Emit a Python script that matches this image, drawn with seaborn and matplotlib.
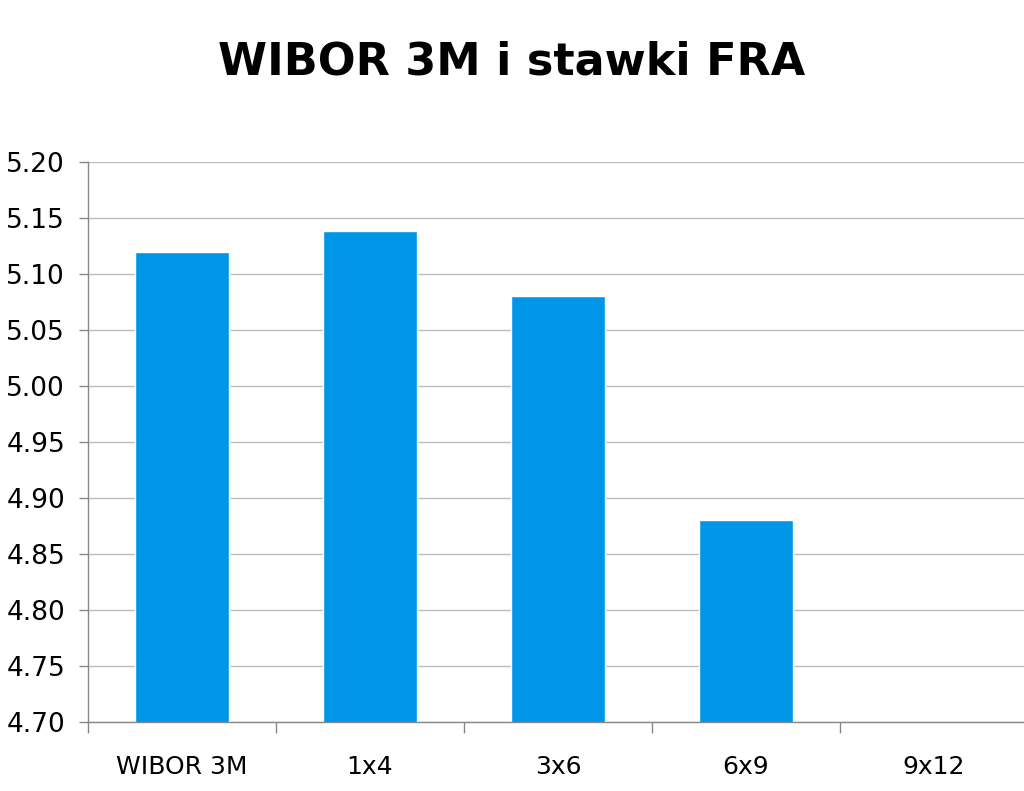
import numpy as np
import pandas as pd
import matplotlib
matplotlib.use('Agg')
import matplotlib.pyplot as plt
import seaborn as sns

categories = ['WIBOR 3M', '1x4', '3x6', '6x9', '9x12']
rates = [5.12, 5.138, 5.08, 4.88, np.nan]
yticks = [4.70, 4.75, 4.80, 4.85, 4.90, 4.95, 5.00, 5.05, 5.10, 5.15, 5.20]

sns.set_style('white')
plt.rcParams['font.family'] = ['DejaVu Sans']
plt.rcParams['text.color'] = 'black'
plt.rcParams['xtick.color'] = 'black'
plt.rcParams['ytick.color'] = 'black'

df = pd.DataFrame({'kontrakt': categories, 'stopa': rates})

fig = plt.figure(figsize=(10.24, 7.91), dpi=100)
ax = fig.add_axes([88 / 1024, 1 - 722 / 791, 940 / 1024, 560 / 791])

sns.barplot(data=df, x='kontrakt', y='stopa', order=categories,
            color='#0096E8', saturation=1, width=0.5, errorbar=None, ax=ax)

ax.set_ylim(4.70, 5.20)
ax.set_xlim(-0.5, len(categories) - 0.5)
ax.set_yticks(yticks)
ax.set_yticklabels([f'{v:.2f}' for v in yticks], fontsize=19)
ax.yaxis.grid(True, color='#BDBDBD', linewidth=1)
ax.set_axisbelow(True)
ax.tick_params(axis='y', length=6.5, width=1, color='#888888', pad=10, left=True,
               labelcolor='black')

ax.set_xticks(range(len(categories)))
ax.set_xticklabels(categories, fontsize=18)
ax.set_xticks(np.arange(-0.5, len(categories)), minor=True)
ax.tick_params(axis='x', which='major', length=0, pad=24, labelcolor='black')
ax.tick_params(axis='x', which='minor', length=8, width=1, color='#888888', bottom=True)

for s in ['top', 'right']:
    ax.spines[s].set_visible(False)
for s in ['left', 'bottom']:
    ax.spines[s].set_color('#888888')
    ax.spines[s].set_linewidth(1)

ax.set_xlabel('')
ax.set_ylabel('')

fig.text(0.5, 1 - 62 / 791, 'WIBOR 3M i stawki FRA', ha='center', va='center',
         fontsize=32, fontweight='bold', color='black')

fig.savefig('out.png', dpi=100)
